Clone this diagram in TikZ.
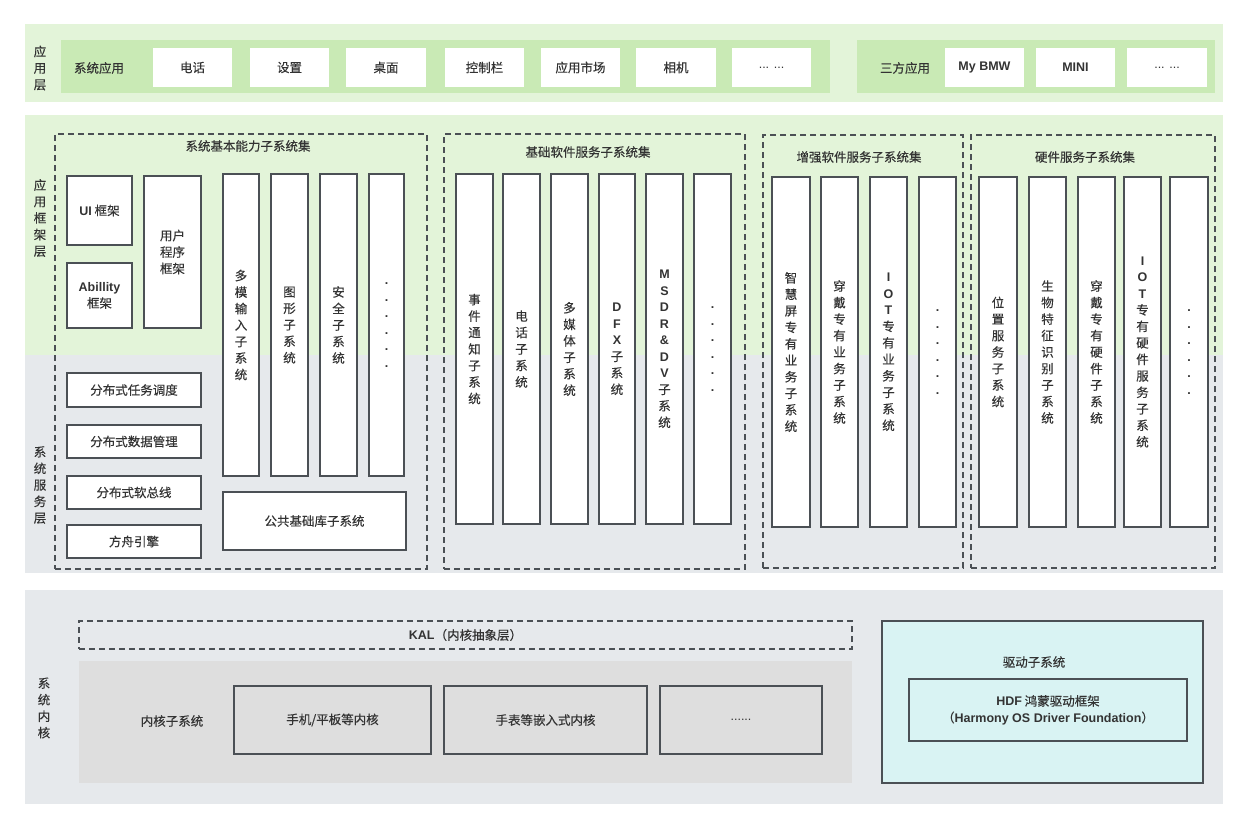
\documentclass[tikz,border=0pt]{standalone}
\usepackage{fontspec}
\setmainfont{Noto Sans CJK SC}[FakeBold=0.3]
\newfontfamily\arialfont{Liberation Sans}
\newcommand{\lat}[1]{{\arialfont\bfseries #1}}
\definecolor{bandgreen}{HTML}{E3F4D9}
\definecolor{bargreen}{HTML}{C9EAB5}
\definecolor{bandgray}{HTML}{E6E9EC}
\definecolor{kerngray}{HTML}{DEDEDE}
\definecolor{drvcyan}{HTML}{D9F3F3}
\definecolor{edge}{HTML}{4B5055}
\definecolor{txt}{HTML}{333333}
\newcommand{\lblfont}{\fontsize{12.5}{16.5}\selectfont}
% box from corner (x1,y1) to corner (x2,y2)
\newcommand{\blk}[7][box]{%
  \node[#1,minimum width={#5-#3},minimum height={#6-#4}] (#2) at ({(#3+#5)/2},{(#4+#6)/2}) {#7};}
\tikzset{
  every node/.style={inner sep=0pt,outer sep=0pt,text=txt,font=\lblfont,align=center},
  box/.style={draw=edge,line width=1.3pt,fill=white},
  app/.style={fill=white},
  grp/.style={draw=edge,line width=1.2pt,dash pattern=on 6pt off 4pt},
}
\begin{document}
\begin{tikzpicture}[x=1pt,y=-1pt]
\useasboundingbox (0,0) rectangle (1249,830);
\fill[white] (0,0) rectangle (1249,830);

% application layer
\fill[bandgreen] (25,24) rectangle (1223,102);
\fill[bargreen] (61,40) rectangle (830,93);
\fill[bargreen] (857,40) rectangle (1215,93);
\node (applayer) at (40,68) {应\\用\\层};
\node (sysapp) at (99,68) {系统应用};
\blk[app]{phone}{153}{48}{232}{87}{电话}
\blk[app]{settings}{250}{48}{329}{87}{设置}
\blk[app]{desktop}{346}{48}{426}{87}{桌面}
\blk[app]{ctrlbar}{445}{48}{524}{87}{控制栏}
\blk[app]{market}{541}{48}{620}{87}{应用市场}
\blk[app]{camera}{636}{48}{716}{87}{相机}
\blk[app]{moreapp}{732}{48}{811}{87}{{\arialfont ... ...}}
\node (thirdapp) at (905,68) {三方应用};
\blk[app]{mybmw}{945}{48}{1024}{87}{\lat{My BMW}}
\blk[app]{mini}{1036}{48}{1115}{87}{\lat{MINI}}
\blk[app]{morethird}{1127}{48}{1207}{87}{{\arialfont ... ...}}

% framework and service layers
\fill[bandgreen] (25,115) rectangle (1223,355);
\fill[bandgray] (25,355) rectangle (1223,573);
\node (fwlayer) at (40,218) {应\\用\\框\\架\\层};
\node (svclayer) at (40,485) {系\\统\\服\\务\\层};

\blk[grp]{basic}{55}{134}{427}{569}{}
\node (basictitle) at (248,146) {系统基本能力子系统集};
\blk{uifw}{67}{176}{132}{245}{\lat{UI} 框架}
\blk{abfw}{67}{263}{132}{328}{\lat{Abillity}\\框架}
\blk{userfw}{144}{176}{201}{328}{用户\\程序\\框架}
\blk{multiin}{223}{174}{259}{476}{多\\模\\输\\入\\子\\系\\统}
\blk{graphic}{271}{174}{308}{476}{图\\形\\子\\系\\统}
\blk{security}{320}{174}{357}{476}{安\\全\\子\\系\\统}
\blk{morebasic}{369}{174}{404}{476}{\lat{.}\\\lat{.}\\\lat{.}\\\lat{.}\\\lat{.}\\\lat{.}}
\blk{commonlib}{223}{492}{406}{550}{公共基础库子系统}
\blk{dtask}{67}{373}{201}{407}{分布式任务调度}
\blk{ddata}{67}{425}{201}{458}{分布式数据管理}
\blk{dbus}{67}{476}{201}{509}{分布式软总线}
\blk{ark}{67}{525}{201}{558}{方舟引擎}

\blk[grp]{software}{444}{134}{745}{569}{}
\node (softtitle) at (588,152) {基础软件服务子系统集};
\blk{event}{456}{174}{493}{524}{事\\件\\通\\知\\子\\系\\统}
\blk{telephony}{503}{174}{540}{524}{电\\话\\子\\系\\统}
\blk{media}{551}{174}{588}{524}{多\\媒\\体\\子\\系\\统}
\blk{dfx}{599}{174}{635}{524}{\lat{D}\\\lat{F}\\\lat{X}\\子\\系\\统}
\blk{msdp}{646}{174}{683}{524}{\lat{M}\\\lat{S}\\\lat{D}\\\lat{R}\\\lat{\&}\\\lat{D}\\\lat{V}\\子\\系\\统}
\blk{moresoft}{694}{174}{731}{524}{\lat{.}\\\lat{.}\\\lat{.}\\\lat{.}\\\lat{.}\\\lat{.}}

\blk[grp]{enhanced}{763}{135}{963}{568}{}
\node (enhtitle) at (859,157) {增强软件服务子系统集};
\blk{smartscr}{772}{177}{810}{527}{智\\慧\\屏\\专\\有\\业\\务\\子\\系\\统}
\blk{wearable}{821}{177}{858}{527}{穿\\戴\\专\\有\\业\\务\\子\\系\\统}
\blk{iotsvc}{870}{177}{907}{527}{\lat{I}\\\lat{O}\\\lat{T}\\专\\有\\业\\务\\子\\系\\统}
\blk{moreenh}{919}{177}{956}{527}{\lat{.}\\\lat{.}\\\lat{.}\\\lat{.}\\\lat{.}\\\lat{.}}

\blk[grp]{hardware}{971}{135}{1215}{568}{}
\node (hwtitle) at (1085,157) {硬件服务子系统集};
\blk{location}{979}{177}{1017}{527}{位\\置\\服\\务\\子\\系\\统}
\blk{biometric}{1029}{177}{1066}{527}{生\\物\\特\\征\\识\\别\\子\\系\\统}
\blk{wearhw}{1078}{177}{1115}{527}{穿\\戴\\专\\有\\硬\\件\\子\\系\\统}
\blk{iothw}{1124}{177}{1161}{527}{\lat{I}\\\lat{O}\\\lat{T}\\专\\有\\硬\\件\\服\\务\\子\\系\\统}
\blk{morehw}{1170}{177}{1208}{527}{\lat{.}\\\lat{.}\\\lat{.}\\\lat{.}\\\lat{.}\\\lat{.}}

% kernel layer
\fill[bandgray] (25,590) rectangle (1223,804);
\node (kernlayer) at (44,708) {系\\统\\内\\核};
\blk[grp]{kal}{79}{621}{852}{649}{\lat{KAL}（内核抽象层）}
\blk[fill=kerngray]{kernel}{79}{661}{852}{783}{}
\node (kerntitle) at (172,721) {内核子系统};
\blk[box,fill=kerngray]{kphone}{234}{686}{431}{754}{手机/平板等内核}
\blk[box,fill=kerngray]{kwatch}{444}{686}{647}{754}{手表等嵌入式内核}
\blk[box,fill=kerngray]{kmore}{660}{686}{822}{754}{{\arialfont ......}}
\blk[box,fill=drvcyan]{driver}{882}{621}{1203}{783}{}
\node (drvtitle) at (1034,662) {驱动子系统};
\blk[box,fill=drvcyan]{hdf}{909}{679}{1187}{741}{\lat{HDF} 鸿蒙驱动框架\\（\lat{Harmony OS Driver Foundation}）}
\end{tikzpicture}
\end{document}
